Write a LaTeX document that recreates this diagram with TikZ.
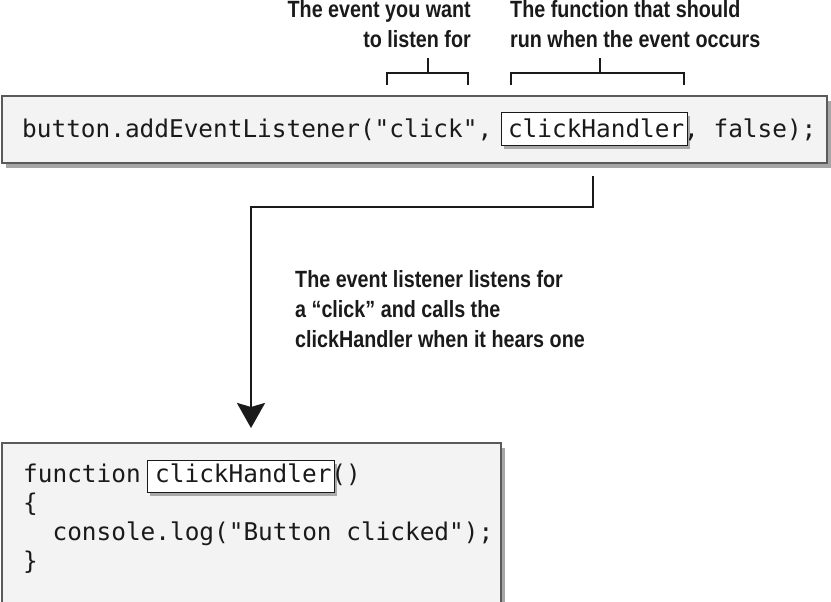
\documentclass[tikz,border=0pt]{standalone}
\usepackage{fontspec}
\usetikzlibrary{shadows,arrows.meta}
\newfontfamily\codefont{DejaVu Sans Mono}
\newfontfamily\labelfont[FakeStretch=0.84]{Liberation Sans}
\definecolor{boxfill}{HTML}{F3F3F3}
\definecolor{boxline}{HTML}{5A5A5A}
\definecolor{ink}{HTML}{1A1A1A}
\begin{document}
\begin{tikzpicture}[x=1pt,y=-1pt,
  codebox/.style={draw=boxline, line width=1.6pt, fill=boxfill, anchor=north west, inner sep=0pt,
    drop shadow={shadow xshift=4pt, shadow yshift=-5pt, fill=black, opacity=0.35}},
  namebox/.style={draw=ink, line width=1.2pt, fill=white, anchor=north west, inner sep=0pt,
    drop shadow={shadow xshift=2pt, shadow yshift=-3pt, fill=black, opacity=0.3}},
  codetext/.style={font=\codefont\fontsize{24.4}{29}\selectfont, text=ink, inner sep=0pt, anchor=base west},
  labeltext/.style={font=\labelfont\bfseries\fontsize{23.5}{30}\selectfont, text=ink, inner sep=0pt, align=left},
  bracket/.style={draw=ink, line width=2pt},
  conn/.style={draw=ink, line width=2.6pt, -{Stealth[length=25pt, width=28pt, inset=4pt]}},
]
\useasboundingbox (0,0) rectangle (831,602);
% top code box
\node[codebox, minimum width=825pt, minimum height=67pt] (top) at (1,95) {};
\node[namebox, minimum width=186pt, minimum height=33pt] (ch1) at (501,112) {};
\node[codetext] (code1a) at (22,137) {button.addEventListener("click",};
\node[codetext] (code1b) at (507.8,137) {clickHandler};
\node[codetext] (code1c) at (684,137) {, false);};
% labels above (base = baseline of last line)
\node[labeltext, align=right, anchor=base east] (lab1) at (471,48) {The event you want\\to listen for};
\node[labeltext, anchor=base west] (lab2) at (510,48) {The function that should\\run when the event occurs};
% brackets
\coordinate (b1l) at (387,85);
\coordinate (b1r) at (468,85);
\coordinate (b1s) at (428,58);
\coordinate (b1m) at (428,73);
\draw[bracket] (b1l) |- (b1m) -| (b1r);
\draw[bracket] (b1s) -- (b1m);
\coordinate (b2l) at (511,85);
\coordinate (b2r) at (684,85);
\coordinate (b2s) at (600,58);
\coordinate (b2m) at (600,73);
\draw[bracket] (b2l) |- (b2m) -| (b2r);
\draw[bracket] (b2s) -- (b2m);
% connector
\coordinate (start) at (593,176);
\coordinate (turn) at (251,207);
\coordinate (tip) at (251,428);
\draw[conn] (start) |- (turn) -- (tip);
\node[labeltext, anchor=base west] (mid) at (295,347) {The event listener listens for\\a “click” and calls the\\clickHandler when it hears one};
% bottom code box
\node[codebox, minimum width=499pt, minimum height=162pt] (bot) at (1,442) {};
\node[namebox, minimum width=187pt, minimum height=32pt] (ch2) at (147,460) {};
\node[codetext] (f1a) at (23,482) {function};
\node[codetext] (f1b) at (155,482) {clickHandler()};
\node[codetext] (f2) at (23,511) {\{};
\node[codetext] (f3) at (23,540) {\ \ console.log("Button clicked");};
\node[codetext] (f4) at (23,569) {\}};
\end{tikzpicture}
\end{document}
